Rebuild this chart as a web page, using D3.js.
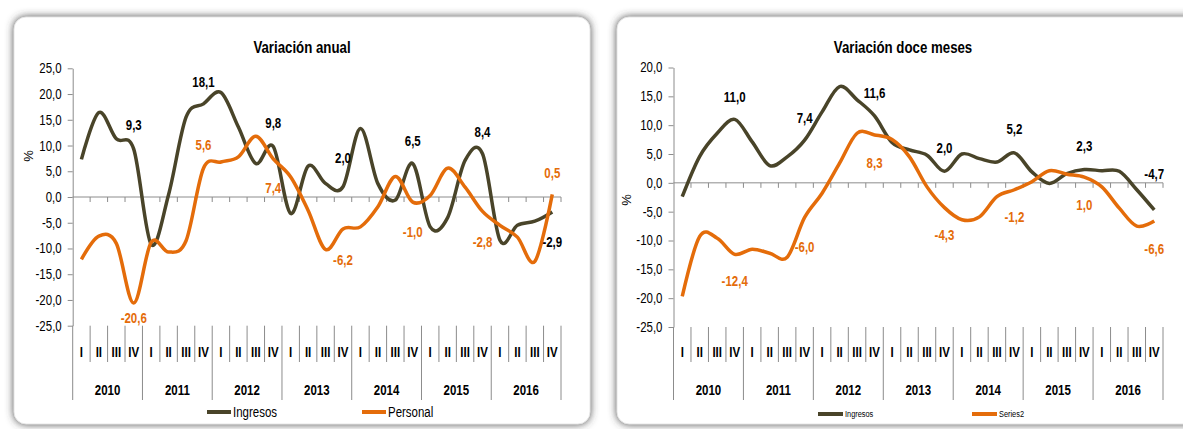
<!DOCTYPE html>
<html>
<head>
<meta charset="utf-8">
<script src="https://cdn.jsdelivr.net/npm/d3@7"></script>
<style>
  body { margin: 0; background: #fff; }
  text { font-family: "Liberation Sans", Arial, sans-serif; }
</style>
</head>
<body>
<div id="wrapper"></div>
<script>
// categories
const years = ["2010", "2011", "2012", "2013", "2014", "2015", "2016"]
const quarters = ["I", "II", "III", "IV"]

// left panel: variación anual
const anualTicks = [25, 20, 15, 10, 5, 0, -5, -10, -15, -20, -25]
const anualIngresos = [7.3, 16.4, 11.3, 9.3, -9.2, 0.5, 15.5, 18.1, 20.3, 13.6, 6.5, 9.8,
  -3.2, 6.0, 2.6, 2.0, 13.3, 2.6, -0.6, 6.5, -5.8, -4.0, 7.1, 8.4,
  -8.4, -5.5, -4.7, -2.9]
const anualPersonal = [-12.1, -7.6, -9.0, -20.6, -8.8, -10.7, -8.5, 5.6, 6.8, 7.8, 11.8, 7.4,
  3.9, -2.6, -10.2, -6.2, -5.8, -1.9, 4.0, -1.0, 0.3, 5.6, 1.9, -2.8,
  -5.5, -7.8, -12.5, 0.5]
// annotations sit on the fourth quarter of each year
const anualIngresosLabels = ["9,3", "18,1", "9,8", "2,0", "6,5", "8,4", "-2,9"]
const anualIngresosLabelAt = [13.9, 22.4, 14.3, 7.5, 10.8, 12.6, -8.8]
const anualPersonalLabels = ["-20,6", "5,6", "7,4", "-6,2", "-1,0", "-2,8", "0,5"]
const anualPersonalLabelAt = [-23.5, 10.1, 1.8, -12.2, -6.8, -8.8, 4.6]

// right panel: variación doce meses
const doceTicks = [20, 15, 10, 5, 0, -5, -10, -15, -20, -25]
const doceIngresos = [-2.4, 4.6, 8.6, 11.0, 7.1, 3.0, 4.5, 7.4, 12.3, 16.7, 14.4, 11.6,
  7.0, 5.7, 4.8, 2.0, 5.0, 4.2, 3.6, 5.2, 1.9, -0.1, 1.6, 2.3,
  2.1, 2.0, -1.2, -4.7]
const doceSeries2 = [-19.7, -9.3, -9.6, -12.4, -11.5, -12.2, -12.9, -6.0, -1.8, 3.4, 8.6, 8.3,
  7.5, 4.5, -0.7, -4.3, -6.4, -5.9, -2.4, -1.2, 0.2, 2.1, 1.5, 1.0,
  -0.7, -4.4, -7.5, -6.6]
const doceIngresosLabels = ["11,0", "7,4", "11,6", "2,0", "5,2", "2,3", "-4,7"]
const doceIngresosLabelAt = [14.9, 11.2, 15.6, 6.0, 9.3, 6.3, 1.6]
const doceSeries2Labels = ["-12,4", "-6,0", "8,3", "-4,3", "-1,2", "1,0", "-6,6"]
const doceSeries2LabelAt = [-17.1, -11.1, 3.4, -9.1, -5.9, -3.8, -11.5]

const colors = { ingresos: "#494429", personal: "#e46c0a", axis: "#8c8c8c" }

const locale = d3.formatLocale({ decimal: ",", thousands: ".", grouping: [3], currency: ["", ""], minus: "-" })
const fmt = locale.format(".1f")

const categories = years.flatMap(y => quarters.map(q => y + "-" + q))

// squeeze text sideways so Liberation Sans looks like a narrow face
function narrow(sel, k = 0.82) {
  sel.each(function() {
    const t = d3.select(this)
    const x = +t.attr("x") || 0
    const y = +t.attr("y") || 0
    t.attr("x", 0).attr("y", 0)
      .attr("transform", `translate(${x},${y}) scale(${k},1)`)
  })
}

const svg = d3.select("#wrapper")
  .append("svg")
    .attr("width", 1183)
    .attr("height", 429)

const filter = svg.append("defs").append("filter")
    .attr("id", "shadow")
    .attr("x", "-10%").attr("y", "-10%")
    .attr("width", "120%").attr("height", "120%")
filter.append("feGaussianBlur")
    .attr("stdDeviation", 4)

function drawPanel(cfg) {
  const d = cfg.dims

  // frame with soft gray shadow
  svg.append("rect")
      .attr("x", d.frameX).attr("y", 17)
      .attr("width", d.frameW).attr("height", 407)
      .attr("rx", 12)
      .attr("fill", "#3c3c3c")
      .attr("filter", "url(#shadow)")
  svg.append("rect")
      .attr("x", d.frameX).attr("y", 17)
      .attr("width", d.frameW).attr("height", 407)
      .attr("rx", 12)
      .attr("fill", "#fff")
      .attr("stroke", "#e6e6e6")

  const g = svg.append("g")

  const xScale = d3.scaleBand()
      .domain(categories)
      .range([d.left, d.right])
      .padding(0)
  const bw = xScale.bandwidth()
  const xCenter = i => xScale(categories[i]) + bw / 2

  const yScale = d3.scaleLinear()
      .domain(d3.extent(cfg.ticks))
      .range([d.bottom, d.top])

  g.append("text")
      .attr("x", d.titleX).attr("y", 53)
      .attr("text-anchor", "middle")
      .attr("font-size", 17)
      .attr("font-weight", "bold")
      .text(cfg.title)
      .call(narrow, 0.78)

  // y axis
  const yAxis = g.append("g")
      .attr("transform", `translate(${d.left},0)`)
      .call(d3.axisLeft(yScale).tickValues(cfg.ticks).tickFormat(fmt).tickSize(5).tickSizeOuter(0).tickPadding(6))
  yAxis.select(".domain").attr("stroke", colors.axis)
  yAxis.selectAll(".tick line").attr("stroke", colors.axis)
  yAxis.selectAll(".tick text")
      .attr("font-family", null)
      .attr("font-size", 14)
      .attr("fill", "#000")
      .call(narrow)

  g.append("text")
      .attr("transform", `translate(${d.pctX},${d.pctY}) rotate(-90)`)
      .attr("text-anchor", "middle")
      .attr("font-size", 13)
      .text("%")

  // category axis hangs off the zero line
  const y0 = yScale(0)
  g.append("line")
      .attr("x1", d.left).attr("x2", d.right)
      .attr("y1", y0).attr("y2", y0)
      .attr("stroke", colors.axis)
  const bounds = categories.map(c => xScale(c)).concat([d.right])
  g.selectAll(".zt").data(bounds.slice(1))
    .join("line")
      .attr("x1", b => b).attr("x2", b => b)
      .attr("y1", y0).attr("y2", y0 + 5)
      .attr("stroke", colors.axis)

  // quarter / year separators below the plot
  const yb = yScale(cfg.ticks[cfg.ticks.length - 1])
  g.selectAll(".sep").data(bounds)
    .join("line")
      .attr("x1", b => b).attr("x2", b => b)
      .attr("y1", yb)
      .attr("y2", (b, k) => k % 4 === 0 ? 400 : 362)
      .attr("stroke", colors.axis)

  g.selectAll(".q").data(categories)
    .join("text")
      .attr("x", (c, i) => xCenter(i))
      .attr("y", 357)
      .attr("text-anchor", "middle")
      .attr("font-size", 14)
      .attr("font-weight", "bold")
      .text(c => c.split("-")[1])
      .call(narrow)

  g.selectAll(".yr").data(years)
    .join("text")
      .attr("x", yr => (xScale(yr + "-I") + xScale(yr + "-IV") + bw) / 2)
      .attr("y", 395)
      .attr("text-anchor", "middle")
      .attr("font-size", 14)
      .attr("font-weight", "bold")
      .text(yr => yr)
      .call(narrow)

  // series
  const lineGenerator = d3.line()
      .x((v, i) => xCenter(i))
      .y(v => yScale(v))
      .curve(d3.curveCatmullRom.alpha(0))

  cfg.series.forEach(s => {
    g.append("path")
        .attr("d", lineGenerator(s.values))
        .attr("fill", "none")
        .attr("stroke", s.color)
        .attr("stroke-width", 3.5)
        .attr("stroke-linejoin", "round")
  })

  cfg.series.forEach(s => {
    g.selectAll(null).data(s.labels)
      .join("text")
        .attr("x", (t, k) => xCenter(4 * k + 3))
        .attr("y", (t, k) => yScale(s.labelAt[k]))
        .attr("dy", "0.35em")
        .attr("text-anchor", "middle")
        .attr("font-size", 14)
        .attr("font-weight", "bold")
        .attr("fill", s.labelColor)
        .text(t => t)
        .call(narrow)
  })

  // legend
  cfg.series.forEach((s, k) => {
    const lx = d.legendX[k]
    g.append("line")
        .attr("x1", lx).attr("x2", lx + d.legendLen)
        .attr("y1", d.legendY).attr("y2", d.legendY)
        .attr("stroke", s.color)
        .attr("stroke-width", 4)
    g.append("text")
        .attr("x", lx + d.legendLen + 2)
        .attr("y", d.legendY)
        .attr("dy", "0.35em")
        .attr("font-size", d.legendFont)
        .text(s.name)
        .call(narrow)
  })
}

drawPanel({
  title: "Variación anual",
  ticks: anualTicks,
  dims: {
    frameX: 14, frameW: 576,
    left: 72.7, right: 561, top: 68.3, bottom: 325.7,
    titleX: 302, pctX: 33, pctY: 156,
    legendX: [207, 362], legendLen: 24, legendY: 412, legendFont: 14
  },
  series: [
    { name: "Ingresos", values: anualIngresos, color: colors.ingresos, labelColor: "#000",
      labels: anualIngresosLabels, labelAt: anualIngresosLabelAt },
    { name: "Personal", values: anualPersonal, color: colors.personal, labelColor: colors.personal,
      labels: anualPersonalLabels, labelAt: anualPersonalLabelAt }
  ]
})

drawPanel({
  title: "Variación doce meses",
  ticks: doceTicks,
  dims: {
    frameX: 617, frameW: 620,
    left: 673.5, right: 1163, top: 67.5, bottom: 327,
    titleX: 903, pctX: 631, pctY: 200,
    legendX: [818, 972], legendLen: 25, legendY: 414, legendFont: 9
  },
  series: [
    { name: "Ingresos", values: doceIngresos, color: colors.ingresos, labelColor: "#000",
      labels: doceIngresosLabels, labelAt: doceIngresosLabelAt },
    { name: "Series2", values: doceSeries2, color: colors.personal, labelColor: colors.personal,
      labels: doceSeries2Labels, labelAt: doceSeries2LabelAt }
  ]
})
</script>
</body>
</html>
